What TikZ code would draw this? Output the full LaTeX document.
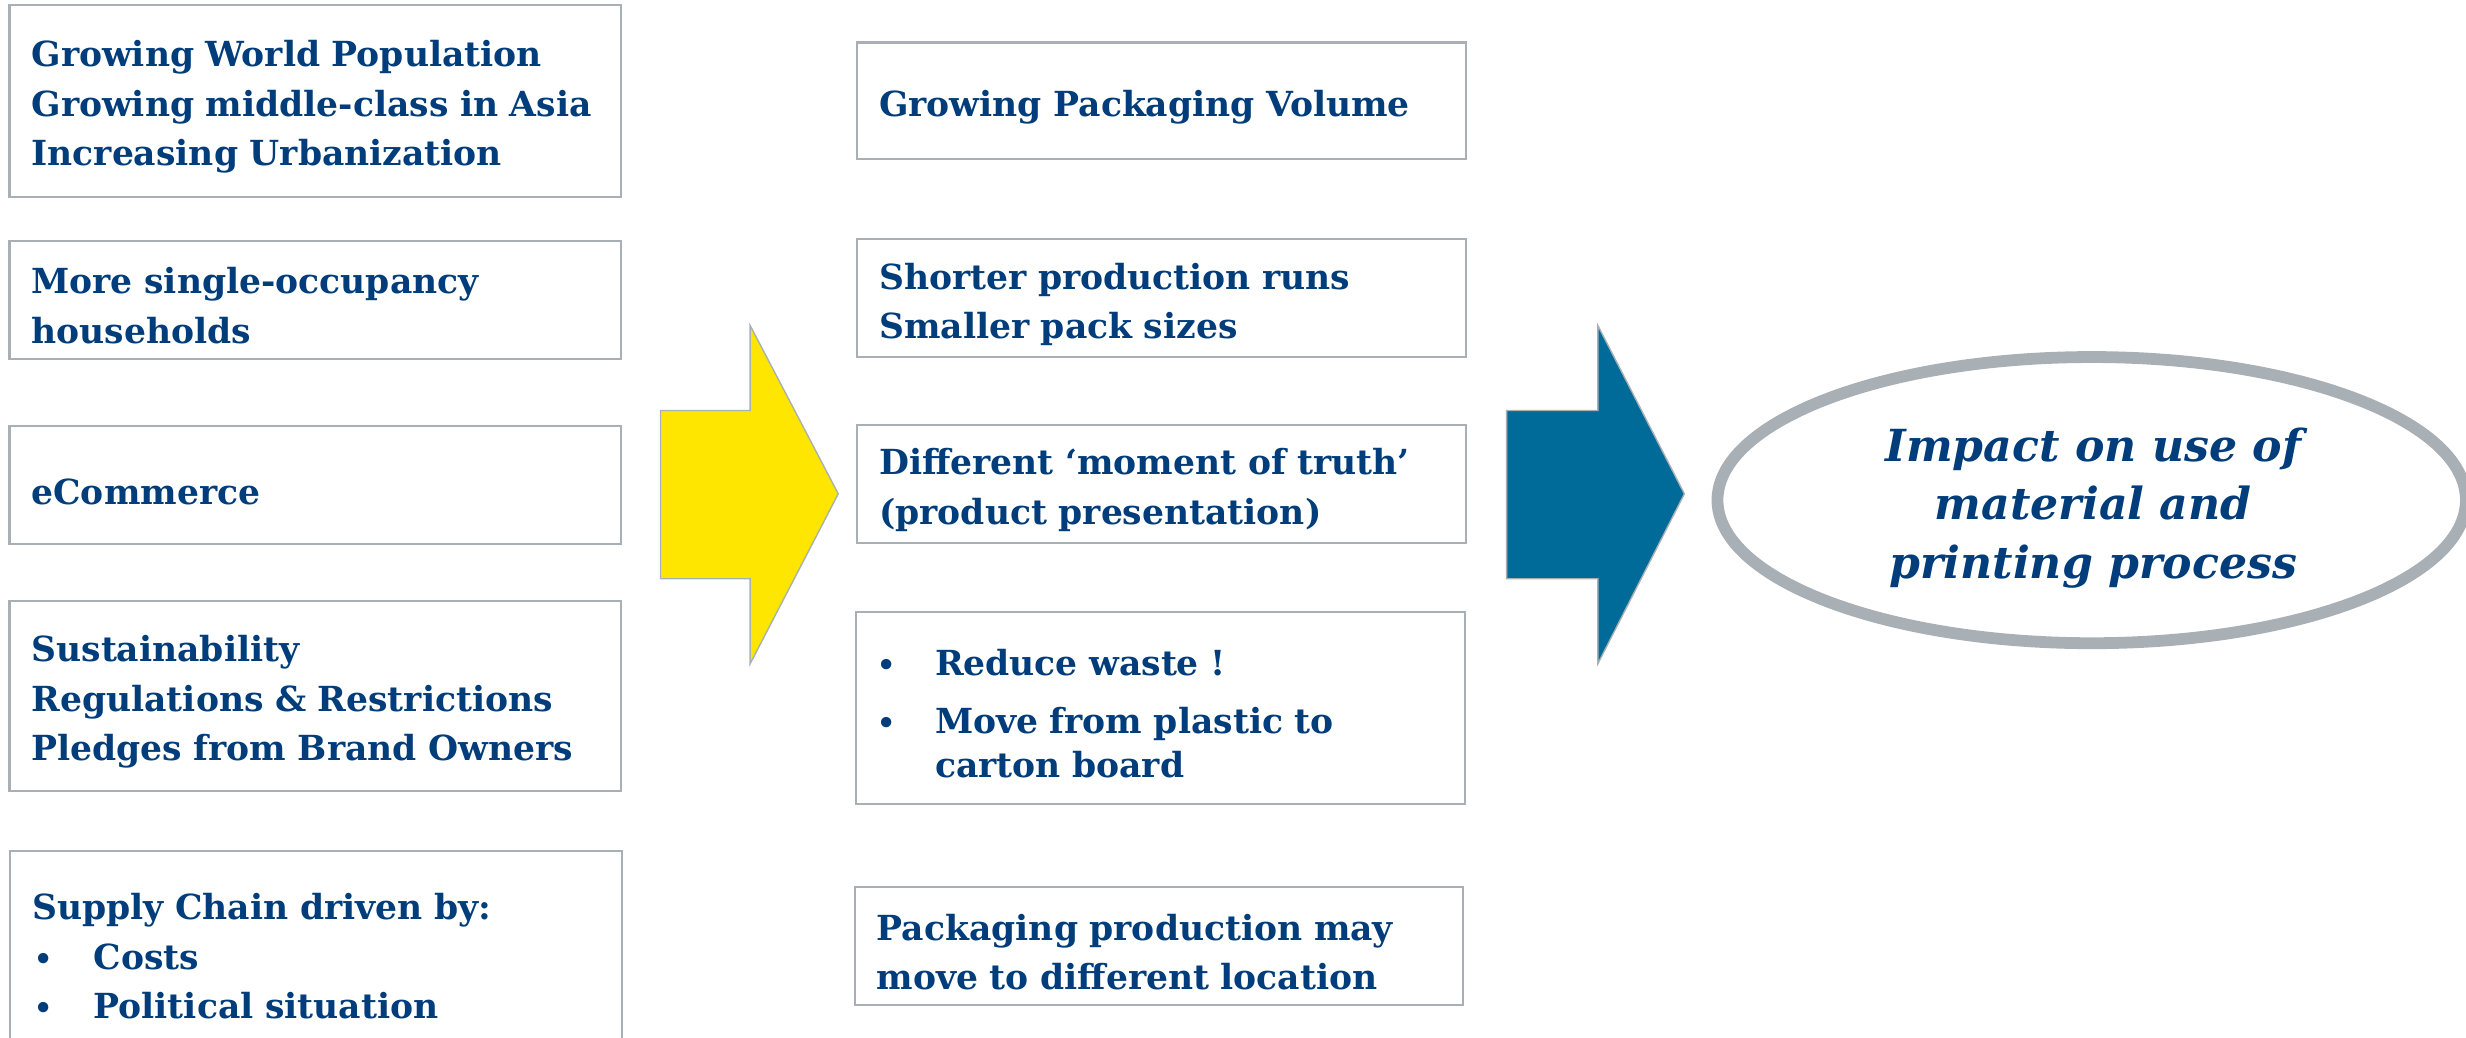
\documentclass[tikz,border=0pt]{standalone}
\usepackage{fontspec}
\setmainfont{DejaVu Serif}
\usetikzlibrary{shapes.geometric}
\definecolor{txtblue}{RGB}{0,61,122}
\definecolor{boxgrey}{RGB}{169,176,181}
\definecolor{arrowyellow}{RGB}{255,230,0}
\definecolor{arrowblue}{RGB}{0,107,153}
\newcommand\tstrut{\rule{0pt}{14pt}}
\newcommand\lbul[1]{\makebox[0.78cm][l]{\hspace{0.02cm}\scalebox{0.85}{\textbullet}}#1}
\newcommand\mbul[1]{\makebox[0.72cm][l]{\hspace{-0.02cm}\scalebox{0.85}{\textbullet}}#1}
\begin{document}
\begin{tikzpicture}[x=0.02cm, y=-0.02cm,
  basebox/.style={draw=boxgrey, line width=0.75pt, rectangle, inner xsep=0.28cm, inner ysep=0pt,
    align=left, text=txtblue, font=\bfseries\fontsize{12.5}{17.9}\selectfont},
  leftbox/.style={basebox, minimum width=7.78cm, text width=7.22cm},
  midbox/.style={basebox, minimum width=7.74cm, text width=7.18cm},
  blockarrow/.style={draw=boxgrey, line width=0.5pt},
  impactstyle/.style={ellipse, draw=boxgrey, line width=0.15cm, minimum width=9.52cm, minimum height=3.64cm,
    inner sep=0pt},
  impacttext/.style={align=center, text=txtblue, inner sep=0pt,
    font=\bfseries\itshape\fontsize{16}{21.1}\selectfont}
]
\useasboundingbox (0,0) rectangle (1568,660);
\clip (0,0) rectangle (1568,660);

% left column
\node[leftbox, minimum height=2.44cm] (f1) at (200.5,64) {\tstrut Growing World Population\\Growing middle-class in Asia\\Increasing Urbanization};
\node[leftbox, minimum height=1.50cm] (f2) at (200.5,190.5) {\tstrut More single-occupancy\\households};
\node[leftbox, minimum height=1.50cm] (f3) at (200.5,308.5) {\tstrut eCommerce};
\node[leftbox, minimum height=2.42cm] (f4) at (200.5,442.5) {\tstrut Sustainability\\Regulations \& Restrictions\\Pledges from Brand Owners};
\node[leftbox, minimum height=2.52cm] (f5) at (201,604) {\tstrut Supply Chain driven by:\\\lbul{Costs}\\\lbul{Political situation}};

% middle column
\node[midbox, minimum height=1.48cm] (e1) at (738.5,64) {\tstrut Growing Packaging Volume};
\node[midbox, minimum height=1.50cm] (e2) at (738.5,189.5) {\tstrut Shorter production runs\\Smaller pack sizes};
\node[midbox, minimum height=1.50cm] (e3) at (738.5,307.5) {\tstrut Different ‘moment of truth’\\(product presentation)};
\node[midbox, minimum height=2.44cm, font=\bfseries\fontsize{12.5}{16.1}\selectfont] (e4) at (738,450) {\tstrut\mbul{Reduce waste !}\\[4.7pt]\mbul{Move from plastic to}\\\hspace*{0.72cm}carton board};
\node[midbox, minimum height=1.50cm] (e5) at (737,601.5) {\tstrut Packaging production may\\move to different location};

% block arrows
\draw[blockarrow, fill=arrowyellow] (420,261) -- (477,261) -- (477,207) -- (533,314) -- (477,422) -- (477,368) -- (420,368) -- cycle;
\draw[blockarrow, fill=arrowblue] (958,261) -- (1016,261) -- (1016,207) -- (1071,314) -- (1016,422) -- (1016,368) -- (958,368) -- cycle;

% result
\node[impactstyle] (impact) at (1330,318) {};
\node[impacttext] (impactlabel) at (1331,323) {Impact on use of\\material and\\printing process};
\end{tikzpicture}
\end{document}
